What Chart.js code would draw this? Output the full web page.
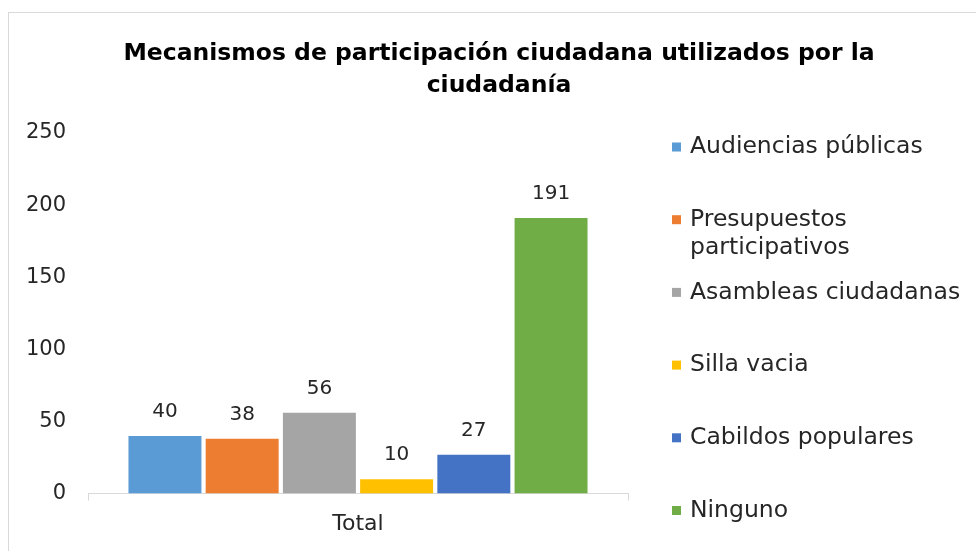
<!DOCTYPE html>
<html>
<head>
<meta charset="utf-8">
<script src="https://cdn.jsdelivr.net/npm/chart.js@4"></script>
<style>
  html, body { margin: 0; padding: 0; background: #fff; overflow: hidden; }
  #frame { position: absolute; left: 8px; top: 12px; width: 1000px; height: 600px; border: 1px solid #d9d9d9; }
  #chart { position: absolute; left: 0; top: 0; }
</style>
</head>
<body>
<div id="frame"></div>
<canvas id="chart" width="976" height="551"></canvas>
<script>
const FONT = '"DejaVu Sans", sans-serif';
const TEXT = '#262626';

const categories = ['Total'];
const seriesNames = [
  'Audiencias públicas',
  'Presupuestos\nparticipativos',
  'Asambleas ciudadanas',
  'Silla vacia',
  'Cabildos populares',
  'Ninguno'
];
const seriesValues = [40, 38, 56, 10, 27, 191];
const seriesColors = ['#5B9BD5', '#ED7D31', '#A5A5A5', '#FFC000', '#4472C4', '#70AD47'];
const yMin = 0, yMax = 250, yStep = 50;

/* value labels above the bars */
const valueLabels = {
  id: 'valueLabels',
  afterDatasetsDraw(chart) {
    const ctx = chart.ctx;
    ctx.save();
    ctx.font = '20px ' + FONT;
    ctx.fillStyle = TEXT;
    ctx.textAlign = 'center';
    ctx.textBaseline = 'middle';
    chart.data.datasets.forEach((ds, i) => {
      chart.getDatasetMeta(i).data.forEach((bar, j) => {
        ctx.fillText(ds.data[j], bar.x, bar.y - 24);
      });
    });
    ctx.restore();
  }
};

/* legend on the right, names may wrap on \n */
const sideLegend = {
  id: 'sideLegend',
  afterDraw(chart) {
    const ctx = chart.ctx;
    ctx.save();
    ctx.font = '23.5px ' + FONT;
    ctx.textBaseline = 'middle';
    chart.data.datasets.forEach((ds, i) => {
      const y = 147 + i * 72.7;
      ctx.fillStyle = ds.backgroundColor;
      ctx.fillRect(672, y - 4.5, 9, 9);
      ctx.fillStyle = TEXT;
      ds.label.split('\n').forEach((line, k) => ctx.fillText(line, 690, y + k * 28));
    });
    ctx.restore();
  }
};

new Chart(document.getElementById('chart'), {
  type: 'bar',
  data: {
    labels: categories,
    datasets: seriesNames.map((name, i) => ({
      label: name,
      data: [seriesValues[i]],
      backgroundColor: seriesColors[i],
      categoryPercentage: 0.858,
      barPercentage: 0.945
    }))
  },
  options: {
    responsive: false,
    devicePixelRatio: 1,
    animation: false,
    layout: { padding: { left: 22, right: 0, top: 28, bottom: 4 } },
    plugins: {
      legend: { display: false },
      tooltip: { enabled: false },
      title: {
        display: true,
        text: ['Mecanismos de participación ciudadana utilizados por la', 'ciudadanía'],
        color: '#000',
        font: { family: FONT, size: 23.5, weight: 'bold', lineHeight: 32 / 23.5 },
        padding: { top: 10, bottom: 31 }
      }
    },
    scales: {
      x: {
        grid: { display: true, drawOnChartArea: false, drawTicks: true, tickLength: 7, color: '#d9d9d9' },
        border: { display: true, color: '#d9d9d9', width: 1 },
        ticks: { color: TEXT, padding: 10, font: { family: FONT, size: 22 } }
      },
      y: {
        min: yMin,
        max: yMax,
        afterFit(scale) { scale.width = 66; },
        grid: { display: false, drawTicks: false },
        border: { display: false },
        ticks: { stepSize: yStep, color: TEXT, padding: 22, font: { family: FONT, size: 21 } }
      },
      /* empty box that keeps room for the legend on the right */
      side: {
        type: 'linear',
        position: 'right',
        afterFit(scale) { scale.width = 348; },
        grid: { display: false },
        border: { display: false },
        ticks: { display: false }
      }
    }
  },
  plugins: [valueLabels, sideLegend]
});
</script>
</body>
</html>
